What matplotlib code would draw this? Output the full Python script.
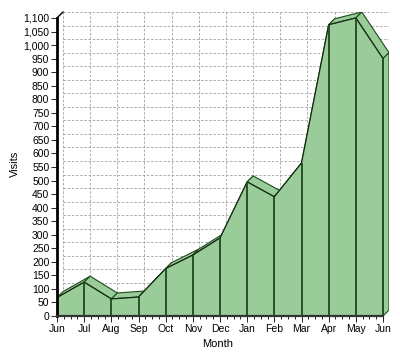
import matplotlib
matplotlib.use("Agg")
import matplotlib.pyplot as plt
from matplotlib.patches import Polygon
from matplotlib.ticker import FuncFormatter

# monthly visits, Jun to Jun
months = ["Jun", "Jul", "Aug", "Sep", "Oct", "Nov", "Dec",
          "Jan", "Feb", "Mar", "Apr", "May", "Jun"]
visits = [68, 125, 63, 70, 175, 225, 288, 495, 440, 565, 1075, 1100, 950]
y_ticks = list(range(0, 1101, 50))

fill_col = "#99cc99"
edge_col = "#1e4a1e"
grid_col = "#a0a0a0"

# depth of the fake 3d effect, in data units
dx = 0.22
dy = 22

x = list(range(len(months)))
xmax = x[-1]
ymax = y_ticks[-1]

plt.rcParams['font.family'] = ['Liberation Sans', 'DejaVu Sans']
fig = plt.figure(figsize=(4.0, 3.56), dpi=100)
ax = fig.add_axes([57 / 400, 40 / 356, 332 / 400, 304 / 356])
ax.set_xlim(0, xmax + dx)
ax.set_ylim(0, ymax + dy)
for s in ax.spines.values():
    s.set_visible(False)

# back wall grid
for v in y_ticks[1:]:
    ax.plot([dx, xmax + dx], [v + dy, v + dy], color=grid_col, lw=0.6,
            linestyle=(0, (3, 2)), zorder=1)
for i in x:
    ax.plot([i + dx, i + dx], [dy, ymax + dy], color=grid_col, lw=0.6,
            linestyle=(0, (3, 2)), zorder=1)

# top strips
for i in range(len(x) - 1):
    pts = [(x[i], visits[i]), (x[i + 1], visits[i + 1]),
           (x[i + 1] + dx, visits[i + 1] + dy), (x[i] + dx, visits[i] + dy)]
    ax.add_patch(Polygon(pts, closed=True, facecolor=fill_col,
                         edgecolor=edge_col, lw=0.8, zorder=2))

# right side face
side = [(xmax, 0), (xmax + dx, dy), (xmax + dx, visits[-1] + dy), (xmax, visits[-1])]
ax.add_patch(Polygon(side, closed=True, facecolor=fill_col,
                     edgecolor=edge_col, lw=0.8, zorder=2))

# front face
ax.fill_between(x, visits, 0, facecolor=fill_col, edgecolor="none", zorder=3)
ax.plot(x, visits, color="#102810", lw=0.9, zorder=4)
ax.vlines(x[1:], 0, visits[1:], color=edge_col, lw=1.3, zorder=4)

# front axis lines
ax.plot([0, 0], [0, ymax], color="black", lw=2.0, zorder=5, clip_on=False)
ax.plot([0, dx], [ymax, ymax + dy], color="black", lw=1.0, zorder=5, clip_on=False)
ax.plot([0, xmax], [0, 0], color="#333333", lw=1.6, zorder=5, clip_on=False)

ax.set_yticks(y_ticks)
ax.yaxis.set_major_formatter(FuncFormatter(lambda v, p: f"{int(v):,}"))
ax.set_xticks(x)
ax.set_xticklabels(months)
ax.set_xticks([i / 4 for i in range(0, 4 * xmax + 1)], minor=True)
ax.tick_params(axis="both", labelsize=7.5, length=4, width=0.6, pad=1.5)
ax.tick_params(axis="x", which="minor", length=2, width=0.6)
ax.tick_params(axis="y", which="minor", length=0)

ax.set_xlabel("Month", fontsize=8)
ax.set_ylabel("Visits", fontsize=8)
ax.yaxis.set_label_coords(-0.111, 0.5)
ax.xaxis.set_label_coords(0.485, -0.076)

fig.savefig("out.png", dpi=100)
